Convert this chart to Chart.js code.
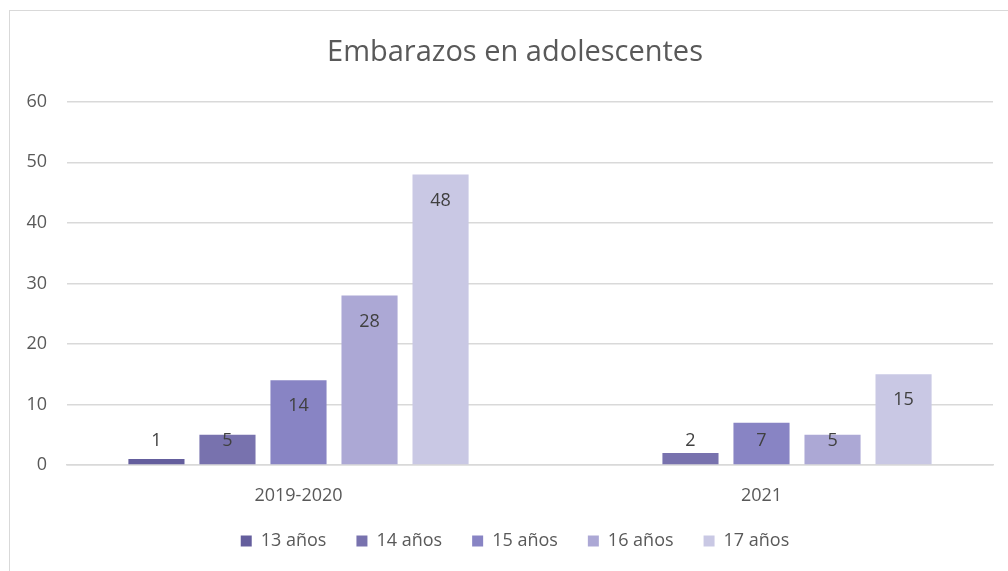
<!DOCTYPE html>
<html>
<head>
<meta charset="utf-8">
<script src="https://cdn.jsdelivr.net/npm/chart.js@4"></script>
<style>
  html, body { margin: 0; padding: 0; background: #fff; }
  #wrap { position: relative; width: 1008px; height: 571px; }
  #frame { position: absolute; left: 9px; top: 10px; right: -2px; bottom: -2px; border: 1.5px solid #d9d9d9; }
  canvas { position: absolute; left: 0; top: 0; }
</style>
</head>
<body>
<div id="wrap">
  <div id="frame"></div>
  <canvas id="chart" width="1008" height="571"></canvas>
</div>
<script>
const categories = ['2019-2020', '2021'];
const ageLabels = ['13 años', '14 años', '15 años', '16 años', '17 años'];
const age13 = [1, null];
const age14 = [5, 2];
const age15 = [14, 7];
const age16 = [28, 5];
const age17 = [48, 15];
const yTicks = [0, 10, 20, 30, 40, 50, 60];

const colors = ['#645e9d', '#7872ae', '#8884c4', '#aca8d5', '#c9c8e4'];
const textColor = '#595959';
const fontFamily = "'Open Sans', 'Liberation Sans', sans-serif";

const seriesData = [age13, age14, age15, age16, age17];

// Excel style "inside end" labels, pushed up when the bar is short
const barLabels = {
  id: 'barLabels',
  afterDatasetsDraw(chart) {
    const ctx = chart.ctx;
    const zeroY = chart.scales.y.getPixelForValue(0);
    ctx.save();
    ctx.font = '18px ' + fontFamily;
    ctx.fillStyle = '#404040';
    ctx.textAlign = 'center';
    ctx.textBaseline = 'middle';
    chart.data.datasets.forEach((ds, i) => {
      const meta = chart.getDatasetMeta(i);
      meta.data.forEach((bar, j) => {
        const v = ds.data[j];
        if (v === null || v === undefined) return;
        const y = Math.min(bar.y + 26, zeroY - 24);
        ctx.fillText(String(v), bar.x, y);
      });
    });
    ctx.restore();
  }
};

new Chart(document.getElementById('chart'), {
  type: 'bar',
  data: {
    labels: categories,
    datasets: seriesData.map((d, i) => ({
      label: ageLabels[i],
      data: d,
      backgroundColor: colors[i],
      barPercentage: 0.79,
      categoryPercentage: 0.767
    }))
  },
  options: {
    responsive: false,
    animation: false,
    // the original frame runs past the right edge, so title/legend sit a bit right of centre
    layout: { padding: { left: 22, right: 0, top: 35, bottom: 11 } },
    scales: {
      x: {
        grid: { display: false },
        border: { display: true, color: '#d9d9d9', width: 1.5 },
        afterFit(axis) { axis.height = 37; },
        ticks: { color: textColor, font: { family: fontFamily, size: 18 }, padding: 12 }
      },
      y: {
        min: 0,
        max: 60,
        afterBuildTicks(axis) { axis.ticks = yTicks.map(v => ({ value: v })); },
        afterFit(axis) { axis.width = 45; },
        grid: { color: '#d9d9d9', lineWidth: 1.5, drawTicks: false },
        border: { display: false },
        ticks: { color: textColor, font: { family: fontFamily, size: 18 }, padding: 20 }
      },
      spacer: {
        type: 'linear',
        position: 'right',
        afterFit(axis) { axis.width = 15; },
        grid: { display: false },
        border: { display: false },
        ticks: { display: false }
      }
    },
    plugins: {
      title: {
        display: true,
        text: 'Embarazos en adolescentes',
        color: textColor,
        font: { family: fontFamily, size: 29, weight: 'normal' },
        padding: { top: 0, bottom: 32 }
      },
      legend: {
        position: 'bottom',
        labels: {
          color: textColor,
          font: { family: fontFamily, size: 18 },
          boxWidth: 11,
          boxHeight: 11,
          padding: 30
        }
      },
      tooltip: { enabled: false }
    }
  },
  plugins: [barLabels]
});
</script>
</body>
</html>
